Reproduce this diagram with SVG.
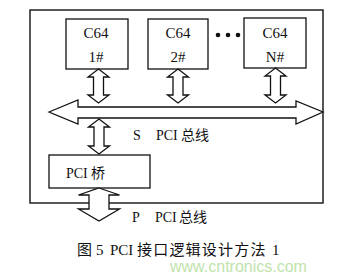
<svg xmlns="http://www.w3.org/2000/svg" width="353" height="277" viewBox="0 0 353 277">
<style>
.box{fill:#fff;stroke:#111;stroke-width:1.3}
.frame{fill:none;stroke:#111;stroke-width:1.4}
.arr{fill:#fff;stroke:#111;stroke-width:1.3;stroke-linejoin:miter}
.t{font-family:"Liberation Serif","Noto Sans CJK SC",serif;font-size:15px;fill:#111;text-anchor:middle;dominant-baseline:central}
.l{font-family:"Liberation Serif","Noto Sans CJK SC",serif;font-size:14px;fill:#111;dominant-baseline:central}
.cap{font-family:"Liberation Serif","Noto Sans CJK SC",serif;font-size:15px;fill:#111;dominant-baseline:central}
.wm{font-family:"Liberation Sans",Arial,sans-serif;font-size:16px;fill:#bfe3ad;dominant-baseline:central}
</style>
<rect width="353" height="277" fill="#fff"/>
<g id="frame"><rect class="frame" x="30" y="10" width="293" height="193"/></g>
<g id="c64-1"><rect class="box" x="66" y="19" width="62" height="50"/><text class="t" x="96" y="33">C64</text><text class="t" x="96" y="57">1#</text></g>
<g id="c64-2"><rect class="box" x="148" y="19" width="60" height="50"/><text class="t" x="178" y="33">C64</text><text class="t" x="178" y="57">2#</text></g>
<g id="dots"><circle cx="218" cy="35" r="2.3" fill="#111"/><circle cx="228" cy="35" r="2.3" fill="#111"/><circle cx="238" cy="35" r="2.3" fill="#111"/></g>
<g id="c64-n"><rect class="box" x="244" y="18" width="62" height="50"/><text class="t" x="275" y="33">C64</text><text class="t" x="275" y="57">N#</text></g>
<g id="s-pci-bus"><path class="arr" d="M49,112 L78,100 L78,107 L296,107 L296,101 L323,112 L296,124 L296,118 L78,118 L78,124 Z"/><text class="l" x="133" y="135">S</text><text class="l" x="156" y="135">PCI</text><text class="l" x="181" y="135" font-size="13">总线</text></g>
<g id="pci-bridge"><rect class="box" x="49" y="155" width="101" height="33"/><text class="l" x="66" y="173">PCI</text><text class="l" x="91" y="173">桥</text></g>
<g id="connectors">
<path class="arr" d="M98.5,69 L109,77 L103.5,77 L103.5,95 L109,95 L98.5,103 L88,95 L93.5,95 L93.5,77 L88,77 Z"/>
<path class="arr" d="M178,69 L188.5,77 L183,77 L183,95 L188.5,95 L178,103 L167.5,95 L173,95 L173,77 L167.5,77 Z"/>
<path class="arr" d="M275.5,68 L286,76 L280.5,76 L280.5,95 L286,95 L275.5,103 L265,95 L270.5,95 L270.5,76 L265,76 Z"/>
<path class="arr" d="M99,119 L109.5,127 L104,127 L104,146 L109.5,146 L99,154 L88.5,146 L94,146 L94,127 L88.5,127 Z"/>
<path class="arr" d="M99,188 L119.5,195 L109,195 L109,209 L119.5,209 L99,221 L78.5,209 L89,209 L89,195 L78.5,195 Z"/>
</g>
<g id="p-pci-label"><text class="l" x="132" y="217">P</text><text class="l" x="155" y="217">PCI</text><text class="l" x="179" y="217" font-size="13">总线</text></g>
<g id="caption"><text class="cap" x="77" y="250">图</text><text class="cap" x="96" y="250">5</text><text class="cap" x="110" y="250">PCI</text><text class="cap" x="137" y="250" letter-spacing="1.2">接口逻辑设计方法</text><text class="cap" x="272" y="250">1</text></g>
<text class="wm" x="170" y="266">www.cntronics.com</text>
</svg>
